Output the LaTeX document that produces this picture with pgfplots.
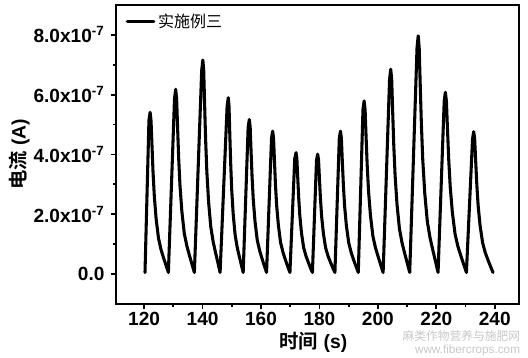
\documentclass[border=0pt]{standalone}
\usepackage{pgfplots}
\pgfplotsset{compat=1.18}
\usepackage{fontspec}
\setmainfont{Liberation Sans}
\newfontfamily\cjk{Noto Sans CJK SC}[BoldFont={Noto Sans CJK SC Bold}]
\begin{document}
\begin{tikzpicture}
\begin{axis}[name=main, scale only axis, width=302pt, height=224pt,
  xmin=110.4, xmax=248.3, ymin=-1, ymax=9,
  xtick={120,140,...,240}, xticklabels={120,140,160,180,200,220,240},
  minor x tick num=1,
  ytick={0,2,4,6,8},
  yticklabels={0.0, 2.0x10\textsuperscript{-7}, 4.0x10\textsuperscript{-7}, 6.0x10\textsuperscript{-7}, 8.0x10\textsuperscript{-7}},
  minor y tick num=1,
  tick align=outside, xtick pos=bottom, ytick pos=left,
  major tick length=4pt, minor tick length=2.5pt,
  every tick/.style={line width=1.4pt, black},
  axis line style={line width=1.7pt},
  tick label style={font=\fontsize{14.3}{16}\selectfont\bfseries},
  yticklabel style={inner sep=1pt, xshift=-3.5pt},
  xticklabel style={inner sep=1pt, yshift=-1pt},
  xlabel={{\cjk\bfseries 时间} {\bfseries (s)}},
  ylabel={{\cjk\bfseries 电流} {\bfseries (A)}},
  label style={font=\fontsize{14.5}{16}\selectfont},
  xlabel style={at={(axis description cs:0.49,-0.13)}, anchor=center},
  ylabel style={at={(axis description cs:-0.24,0.5)}, anchor=center, rotate=0},
  legend style={draw=none, fill=none, at={(0.02,0.985)}, anchor=north west, font=\cjk\fontsize{12}{14}\selectfont, inner sep=1pt},
  legend cell align=left,
  legend image code/.code={\draw[#1] (0pt,0pt) -- (20pt,0pt);},
]
\addplot[black, line width=2.3pt, line join=round, line cap=round] coordinates {
(120.3,0.05) (121.65,5.14) (122.05,5.41) (122.36,5.14) (122.68,4.33) (123.05,3.41) (123.49,2.60) (124.11,1.84) (124.93,1.19) (125.80,0.81) (126.74,0.51) (127.55,0.27)
(128.3,0.05) (130.4,5.87) (130.8,6.18) (131.12,5.87) (131.44,4.94) (131.82,3.89) (132.27,2.97) (132.91,2.10) (133.74,1.36) (134.64,0.93) (135.60,0.59) (136.43,0.31)
(137.2,0.05) (139.7,6.80) (140.1,7.16) (140.40,6.80) (140.69,5.73) (141.04,4.51) (141.46,3.44) (142.05,2.43) (142.81,1.58) (143.64,1.07) (144.53,0.68) (145.29,0.36)
(146.0,0.05) (148.4,5.61) (148.8,5.90) (149.06,5.61) (149.31,4.72) (149.62,3.72) (149.97,2.83) (150.48,2.01) (151.15,1.30) (151.86,0.89) (152.63,0.56) (153.29,0.30)
(153.9,0.05) (155.6,4.91) (156.0,5.17) (156.30,4.91) (156.59,4.14) (156.94,3.26) (157.36,2.48) (157.95,1.76) (158.71,1.14) (159.54,0.78) (160.43,0.49) (161.19,0.26)
(161.9,0.05) (163.6,4.54) (164.0,4.78) (164.30,4.54) (164.59,3.82) (164.94,3.01) (165.36,2.29) (165.95,1.63) (166.71,1.05) (167.54,0.72) (168.43,0.45) (169.19,0.24)
(169.9,0.05) (171.55,3.86) (172.0,4.06) (172.28,3.86) (172.56,3.25) (172.90,2.56) (173.29,1.95) (173.85,1.38) (174.58,0.89) (175.36,0.61) (176.20,0.39) (176.93,0.20)
(177.6,0.05) (179.0,3.81) (179.4,4.01) (179.70,3.81) (179.99,3.21) (180.34,2.53) (180.76,1.92) (181.35,1.36) (182.11,0.88) (182.94,0.60) (183.83,0.38) (184.59,0.20)
(185.3,0.05) (186.8,4.54) (187.2,4.78) (187.51,4.54) (187.81,3.82) (188.18,3.01) (188.60,2.29) (189.21,1.63) (190.01,1.05) (190.86,0.72) (191.78,0.45) (192.57,0.24)
(193.3,0.05) (194.9,5.50) (195.3,5.79) (195.63,5.50) (195.95,4.63) (196.34,3.65) (196.80,2.78) (197.45,1.97) (198.29,1.27) (199.20,0.87) (200.18,0.55) (201.02,0.29)
(201.8,0.05) (204.0,6.51) (204.4,6.85) (204.73,6.51) (205.05,5.48) (205.44,4.32) (205.90,3.29) (206.55,2.33) (207.39,1.51) (208.30,1.03) (209.28,0.65) (210.12,0.34)
(210.9,0.05) (213.4,7.57) (213.8,7.97) (214.14,7.57) (214.48,6.38) (214.89,5.02) (215.36,3.83) (216.04,2.71) (216.93,1.75) (217.88,1.20) (218.90,0.76) (219.78,0.40)
(220.6,0.05) (222.7,5.78) (223.1,6.08) (223.46,5.78) (223.82,4.86) (224.25,3.83) (224.76,2.92) (225.48,2.07) (226.41,1.34) (227.42,0.91) (228.50,0.58) (229.44,0.30)
(230.3,0.05) (232.4,4.52) (232.8,4.76) (233.13,4.52) (233.46,3.81) (233.86,3.00) (234.32,2.28) (234.98,1.62) (235.84,1.05) (236.76,0.71) (237.75,0.45) (238.61,0.24)
(239.4,0.05)
};
\addlegendentry{实施例三}
\end{axis}
\node[anchor=east, text=black!22, font=\cjk\fontsize{8.8}{10}\selectfont, inner sep=0pt] at ([xshift=1pt,yshift=-24pt]main.south east) {麻类作物营养与施肥网};
\node[anchor=east, text=black!22, font=\fontsize{8.8}{10}\selectfont, inner sep=0pt] at ([xshift=1pt,yshift=-34.8pt]main.south east) {www.fibercrops.com};
\pgfresetboundingbox
\path[use as bounding box] ([xshift=-87pt,yshift=-40.5pt]main.south west) rectangle ([xshift=6.75pt,yshift=3.75pt]main.north east);
\end{tikzpicture}
\end{document}
